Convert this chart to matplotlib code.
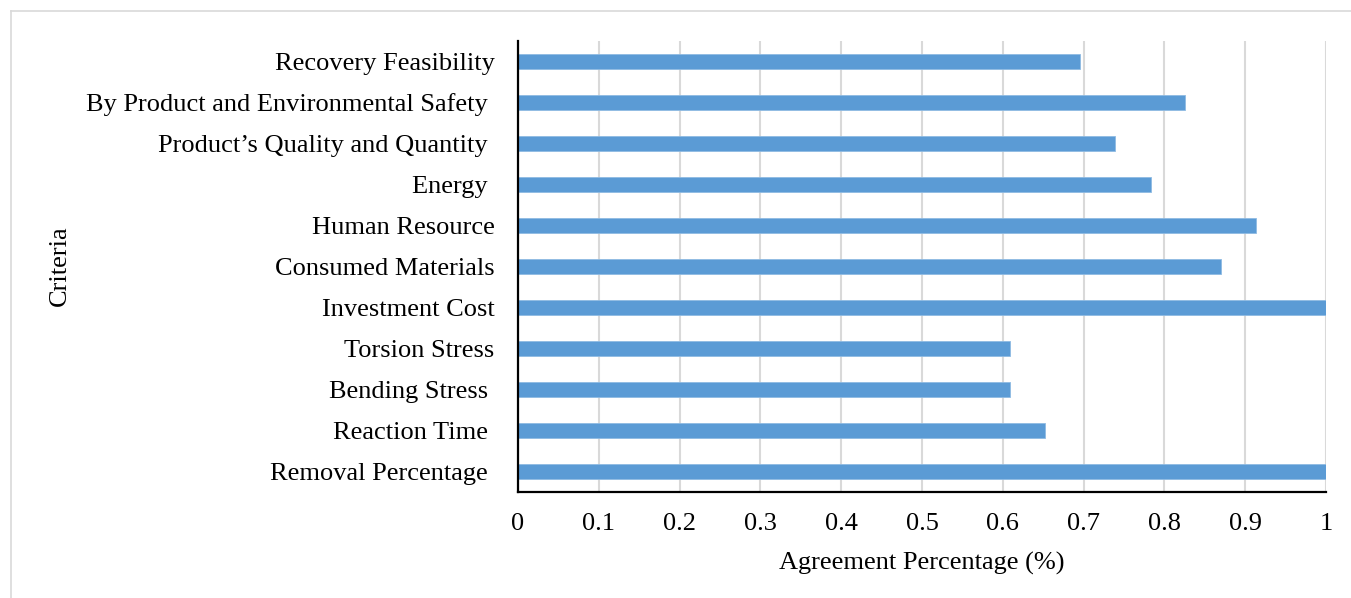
import matplotlib
matplotlib.use("Agg")
import matplotlib.pyplot as plt
from matplotlib.lines import Line2D

# Survey criteria (top to bottom) and share of respondents agreeing
criteria = [
    "Recovery Feasibility",
    "By Product and Environmental Safety ",
    "Product\u2019s Quality and Quantity ",
    "Energy ",
    "Human Resource",
    "Consumed Materials",
    "Investment Cost",
    "Torsion Stress",
    "Bending Stress ",
    "Reaction Time ",
    "Removal Percentage ",
]
agreement = [0.696, 0.826, 0.739, 0.783, 0.913, 0.870, 1.0, 0.609, 0.609, 0.652, 1.0]
x_ticks = [0, 0.1, 0.2, 0.3, 0.4, 0.5, 0.6, 0.7, 0.8, 0.9, 1.0]
x_tick_labels = ["0", "0.1", "0.2", "0.3", "0.4", "0.5", "0.6", "0.7", "0.8", "0.9", "1"]

plt.rcParams["font.family"] = ["Liberation Serif", "DejaVu Serif"]

W, H = 1351, 598
fig = plt.figure(figsize=(W / 100, H / 100), dpi=100)
ax = fig.add_axes([518 / W, 1 - 492 / H, (1326 - 518) / W, (492 - 41) / H])

positions = list(range(len(criteria)))
ax.barh(positions, agreement, height=0.365, color="#5b9bd5",
        edgecolor="#8fbbe3", linewidth=0.6, zorder=3)

ax.set_xlim(0, 1)
ax.set_ylim(len(criteria) - 0.5, -0.5)
ax.set_yticks(positions)
ax.set_yticklabels(criteria, fontsize=19)
ax.set_xticks(x_ticks)
ax.set_xticklabels(x_tick_labels, fontsize=19)
ax.tick_params(axis="x", length=0, pad=15)
ax.tick_params(axis="y", length=0, pad=17)

ax.grid(axis="x", color="#d9d9d9", linewidth=1.5, zorder=0)
ax.set_axisbelow(True)
for side in ("top", "right"):
    ax.spines[side].set_visible(False)
for side in ("left", "bottom"):
    ax.spines[side].set_color("black")
    ax.spines[side].set_linewidth(1.6)
    ax.spines[side].set_zorder(4)

ax.set_xlabel("Agreement Percentage (%)", fontsize=19, labelpad=12)
fig.text(60 / W, 1 - 266 / H, "Criteria", fontsize=19, rotation=90,
         ha="center", va="center")

# Light outer frame (top and left edges)
frame_kw = dict(color="#d9d9d9", linewidth=1.2, transform=fig.transFigure)
fig.add_artist(Line2D([11 / W, 1], [1 - 11 / H, 1 - 11 / H], **frame_kw))
fig.add_artist(Line2D([11 / W, 11 / W], [1 - 11 / H, 0], **frame_kw))

fig.savefig("out.png", dpi=100)
